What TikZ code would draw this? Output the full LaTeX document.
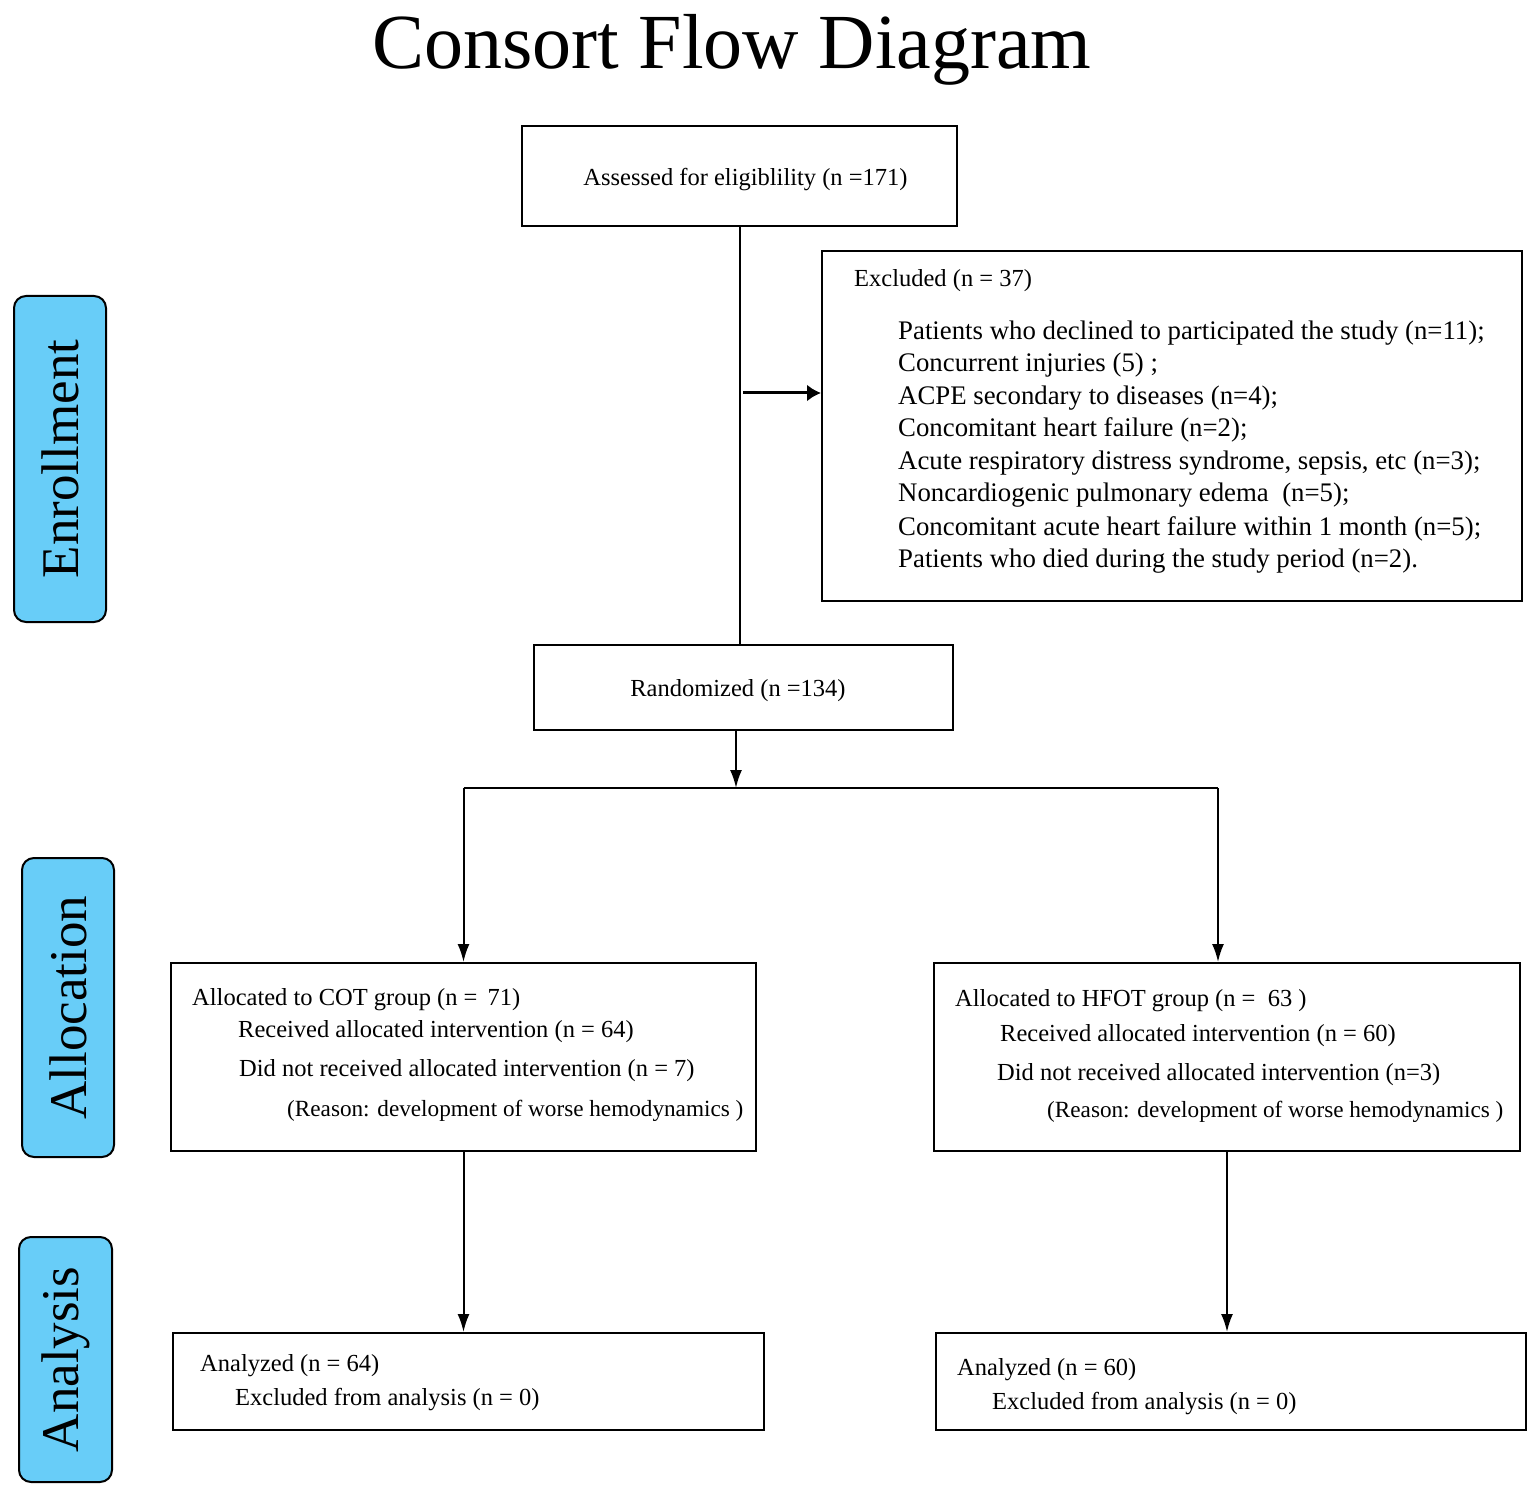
\documentclass[tikz,border=0pt]{standalone}
\usepackage{fontspec}
\setmainfont{Liberation Serif}
\usetikzlibrary{arrows.meta}
\definecolor{sideblue}{RGB}{104,205,248}
\tikzset{
  box/.style={draw, line width=2pt, inner sep=0pt},
  txt/.style={anchor=base west, inner sep=0pt, font=\fontsize{24.5}{29}\selectfont},
  extxt/.style={txt, font=\fontsize{26.8}{32}\selectfont},
  reasontxt/.style={txt, font=\fontsize{23.2}{28}\selectfont},
  side/.style={draw, line width=2pt, fill=sideblue, rounded corners=12pt, rotate=90, inner sep=0pt, font=\fontsize{53}{60}\selectfont},
  arr/.style={line width=2pt, -{Latex[length=18pt,width=12pt]}},
  conn/.style={line width=2pt},
}
\begin{document}
\begin{tikzpicture}[x=1pt,y=-1pt]
\useasboundingbox (0,0) rectangle (1535,1495);
% title
\node[anchor=base, inner sep=0pt, font=\fontsize{78}{90}\selectfont] (title) at (732,69) {Consort Flow Diagram};
% side labels
\node[side, minimum width=326pt, minimum height=92pt] (enr) at (60,459) {Enrollment};
\node[side, minimum width=299pt, minimum height=92pt] (alloc) at (68,1007.5) {Allocation};
\node[side, minimum width=245pt, minimum height=93pt] (anal) at (65.5,1359.5) {Analysis};
% boxes
\node[box, minimum width=435pt, minimum height=100pt] (assess) at (739.5,176) {};
\node[txt, anchor=base] (assesst) at (745.5,186) {Assessed for eligiblility (n =171)};
\node[box, minimum width=700pt, minimum height=350pt] (excl) at (1172,426) {};
\node[box, minimum width=419pt, minimum height=85pt] (rand) at (743.5,687.5) {};
\node[txt, anchor=base] (randt) at (738,696) {Randomized (n =134)};
\node[box, minimum width=585pt, minimum height=188pt] (cot) at (463.5,1057) {};
\node[box, minimum width=586pt, minimum height=188pt] (hfot) at (1227,1057) {};
\node[box, minimum width=591pt, minimum height=97pt] (anl) at (468.5,1381.5) {};
\node[box, minimum width=590pt, minimum height=97pt] (anr) at (1231,1381.5) {};
% excluded text
\node[txt] (ex0) at (854,287) {Excluded (n = 37)};
\node[extxt] (ex1) at (898,340) {Patients who declined to participated the study (n=11);};
\node[extxt] (ex2) at (898,372) {Concurrent injuries (5) ;};
\node[extxt] (ex3) at (898,405) {ACPE secondary to diseases (n=4);};
\node[extxt] (ex4) at (898,437) {Concomitant heart failure (n=2);};
\node[extxt] (ex5) at (898,470) {Acute respiratory distress syndrome, sepsis, etc (n=3);};
\node[extxt] (ex6) at (898,502) {Noncardiogenic pulmonary edema\ \ (n=5);};
\node[extxt] (ex7) at (898,535) {Concomitant acute heart failure within 1 month (n=5);};
\node[extxt] (ex8) at (898,567) {Patients who died during the study period (n=2).};
% COT text
\node[txt] (c1) at (192,1005) {Allocated to COT group (n = \,71)};
\node[txt] (c2) at (238,1037) {Received allocated intervention (n = 64)};
\node[txt] (c3) at (239,1076) {Did not received allocated intervention (n = 7)};
\node[reasontxt] (c4) at (287,1116) {(Reason: development of worse hemodynamics )};
% HFOT text
\node[txt] (h1) at (955,1006) {Allocated to HFOT group (n = \ 63 )};
\node[txt] (h2) at (1000,1041) {Received allocated intervention (n = 60)};
\node[txt] (h3) at (997,1080) {Did not received allocated intervention (n=3)};
\node[reasontxt] (h4) at (1047,1117) {(Reason: development of worse hemodynamics )};
% analysis text
\node[txt] (a1) at (200,1371) {Analyzed (n = 64)};
\node[txt] (a2) at (235,1405) {Excluded from analysis (n = 0)};
\node[txt] (b1) at (957,1375) {Analyzed (n = 60)};
\node[txt] (b2) at (992,1409) {Excluded from analysis (n = 0)};
% connectors
\coordinate (branch) at (740,393);
\coordinate (split) at (736,788);
\coordinate (rjoin) at (1218,788);
\draw[conn] (assess.south -| branch) -- (rand.north -| branch);
\draw[line width=3pt, -{Latex[length=14pt,width=17pt]}] ([xshift=3pt]branch) -- (branch -| excl.west);
\draw[arr] (rand.south -| split) -- (split);
\draw[conn] (cot.north |- split) -- (rjoin);
\draw[arr] (cot.north |- split) -- (cot.north);
\draw[arr] (rjoin) -- (rjoin |- hfot.north);
\draw[arr] (cot.south) -- (cot.south |- anl.north);
\draw[arr] (hfot.south) -- (hfot.south |- anr.north);
\end{tikzpicture}
\end{document}
